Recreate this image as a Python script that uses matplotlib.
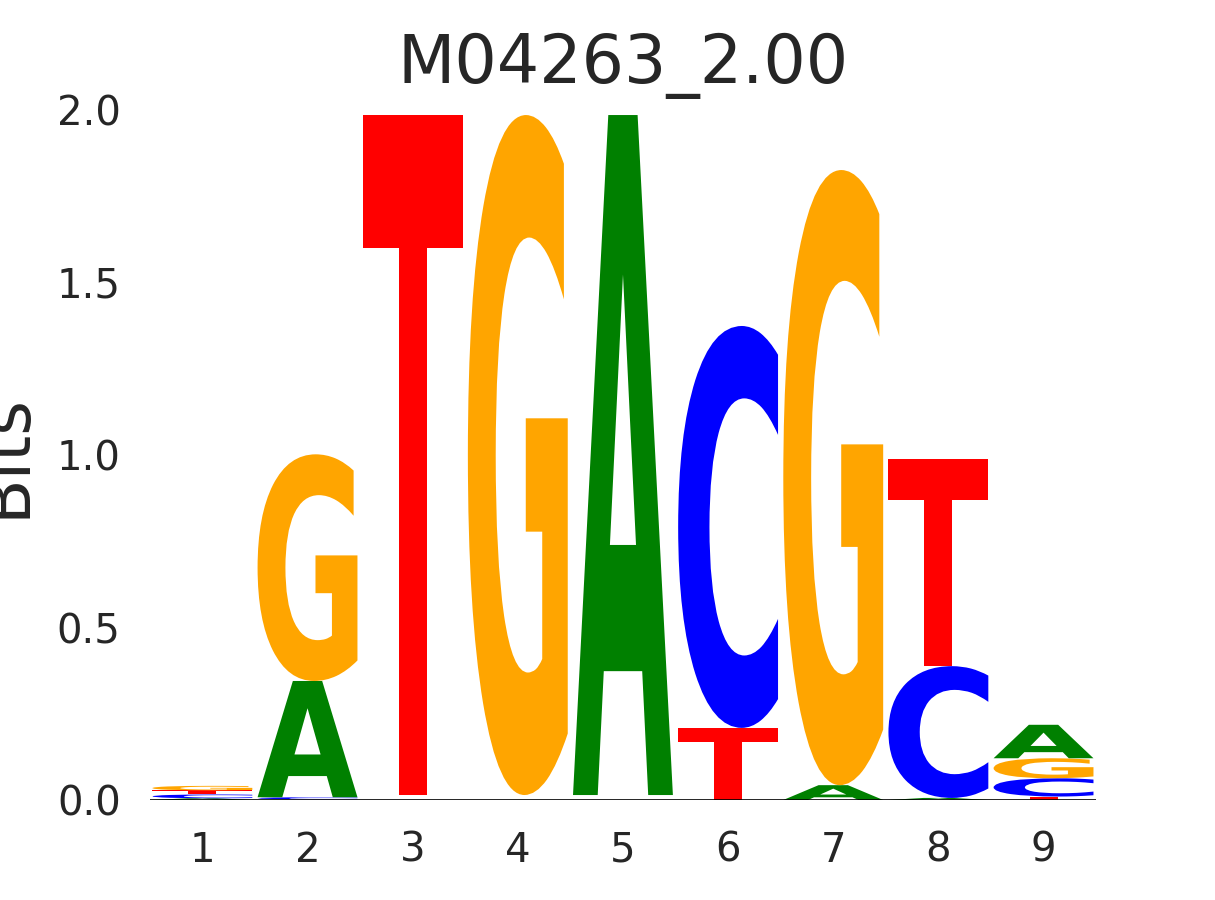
import numpy as np
import matplotlib
matplotlib.use("Agg")
import matplotlib.pyplot as plt
from matplotlib.textpath import TextPath
from matplotlib.patches import PathPatch
from matplotlib.font_manager import FontProperties
from matplotlib.transforms import Affine2D


TITLE = "M04263_2.00"
positions = [1, 2, 3, 4, 5, 6, 7, 8, 9]

# information (bits) per base at each position
A = [0.005, 0.337, 0.0048, 0.0048, 1.971, 0.0, 0.043, 0.006, 0.097]
C = [0.011, 0.006, 0.0048, 0.0048, 0.0048, 1.165, 0.0, 0.382, 0.053]
G = [0.013, 0.657, 0.0048, 1.971, 0.0048, 0.0, 1.783, 0.0, 0.058]
T = [0.012, 0.002, 1.971, 0.0048, 0.0048, 0.209, 0.0, 0.600, 0.010]

COLORS = {"A": "green", "C": "blue", "G": "orange", "T": "red"}
GLYPH_WIDTH = 0.95
MIN_DRAW = 0.005
TEXT_COLOR = "#262626"
FONT = FontProperties(family="DejaVu Sans", weight="bold")


def draw_glyph(ax, letter, x, floor, height):
    path = TextPath((0, 0), letter, size=1, prop=FONT)
    ext = path.get_extents()
    tr = (Affine2D()
          .translate(-ext.x0, -ext.y0)
          .scale(GLYPH_WIDTH / ext.width, height / ext.height)
          .translate(x - GLYPH_WIDTH / 2, floor))
    patch = PathPatch(tr.transform_path(path), facecolor=COLORS[letter],
                      edgecolor="none", linewidth=0)
    ax.add_patch(patch)


fig = plt.figure(figsize=(12.15, 9), dpi=100)
ax = fig.add_axes([149.8 / 1215, 100 / 900, 946.3 / 1215, 690 / 900])

columns = {"A": A, "C": C, "G": G, "T": T}
for i, pos in enumerate(positions):
    stack = sorted(((columns[b][i], b) for b in "ACGT"))
    floor = 0.0
    for h, b in stack:
        if h >= MIN_DRAW:
            draw_glyph(ax, b, pos, floor, h)
        floor += h

ax.axhline(0, color="black", linewidth=1.2, zorder=5)
ax.set_xlim(0.5, 9.5)
ax.set_ylim(0, 2.0)
ax.set_xticks(positions)
ax.set_yticks([0.0, 0.5, 1.0, 1.5, 2.0])
ax.set_yticklabels(["0.0", "0.5", "1.0", "1.5", "2.0"])
ax.tick_params(axis="both", length=0, labelsize=29, labelcolor=TEXT_COLOR)
ax.tick_params(axis="x", pad=22)
ax.tick_params(axis="y", pad=21)
for s in ax.spines.values():
    s.set_visible(False)

ax.set_ylabel("Bits", fontsize=48, color=TEXT_COLOR, labelpad=13)
ax.set_title(TITLE, fontsize=48, color=TEXT_COLOR, pad=19.5)

fig.savefig("out.png", dpi=100)
